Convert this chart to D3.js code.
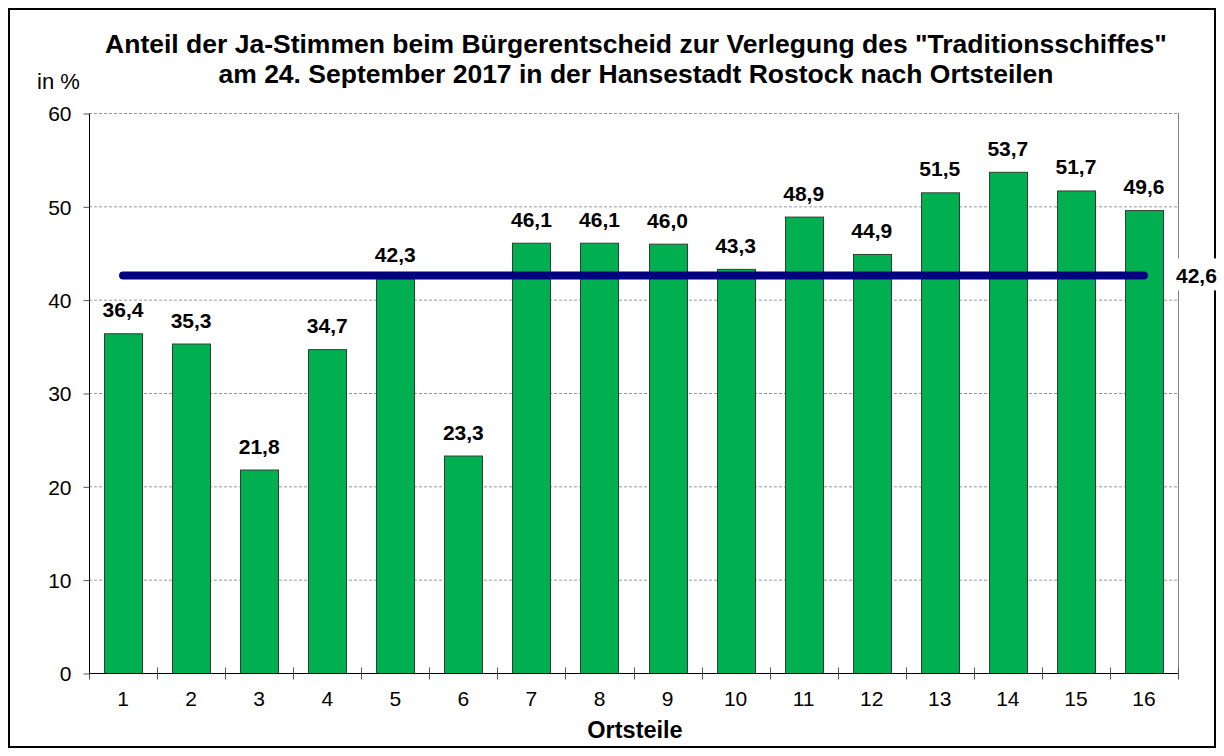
<!DOCTYPE html>
<html>
<head>
<meta charset="utf-8">
<script src="https://cdn.jsdelivr.net/npm/d3@7"></script>
<style>
  html, body { margin: 0; padding: 0; background: #fff; }
  svg text { font-family: Arial, "Liberation Sans", sans-serif; fill: #000; }
</style>
</head>
<body>
<svg id="chart" width="1224" height="756"></svg>
<script>
// Ortsteile (districts) and share of yes votes in %
const districts = ["1","2","3","4","5","6","7","8","9","10","11","12","13","14","15","16"];
const yesShare = [36.4, 35.3, 21.8, 34.7, 42.3, 23.3, 46.1, 46.1, 46.0, 43.3, 48.9, 44.9, 51.5, 53.7, 51.7, 49.6];
const cityAverage = 42.6;
const yTicks = [0, 10, 20, 30, 40, 50, 60];
const titleLines = [
  "Anteil der Ja-Stimmen beim Bürgerentscheid zur Verlegung des \"Traditionsschiffes\"",
  "am 24. September 2017 in der Hansestadt Rostock nach Ortsteilen"
];

const fmt = v => v.toFixed(1).replace(".", ",");

const svg = d3.select("#chart");
const W = 1224, H = 756;
const plot = { left: 89, right: 1178, top: 113, bottom: 673 };

// outer frame
svg.append("rect")
  .attr("x", 9).attr("y", 9).attr("width", W - 18).attr("height", H - 18)
  .attr("fill", "#fff").attr("stroke", "#000").attr("stroke-width", 2);

const xb = d3.scaleBand().domain(districts).range([plot.left, plot.right]);
const y = d3.scaleLinear().domain([0, 60]).range([plot.bottom, plot.top]);
const cx = d => xb(d) + xb.bandwidth() / 2;

// horizontal grid lines
svg.append("g").selectAll("line").data(yTicks.filter(t => t > 0)).join("line")
  .attr("x1", plot.left).attr("x2", plot.right)
  .attr("y1", d => y(d) + 0.5).attr("y2", d => y(d) + 0.5)
  .attr("stroke", "#999").attr("stroke-width", 1).attr("stroke-dasharray", "3,2");

// right border of the plot area
svg.append("line")
  .attr("x1", plot.right + 0.5).attr("x2", plot.right + 0.5)
  .attr("y1", plot.top).attr("y2", plot.bottom)
  .attr("stroke", "#808080").attr("stroke-width", 1);

// bars
svg.append("g").selectAll("rect").data(yesShare).join("rect")
  .attr("x", (d, i) => Math.round(cx(districts[i]) - 19) + 0.5)
  .attr("width", 38)
  .attr("y", d => y(d) + 0.5)
  .attr("height", d => y(0) - y(d))
  .attr("fill", "#00b050")
  .attr("stroke", "#333d33").attr("stroke-width", 1);

// value labels
svg.append("g").selectAll("text").data(yesShare).join("text")
  .attr("x", (d, i) => cx(districts[i]))
  .attr("y", d => y(d) - 16)
  .attr("text-anchor", "middle")
  .attr("font-size", 21).attr("font-weight", "bold")
  .text(d => fmt(d));

// y axis
const yAxis = d3.axisLeft(y).tickValues(yTicks).tickSize(6).tickPadding(12).tickFormat(d3.format("d"));
const gy = svg.append("g").attr("transform", `translate(${plot.left + 0.5},0.5)`).call(yAxis);
gy.select(".domain").attr("stroke", "#000").attr("d", `M0,${plot.top}V${plot.bottom}`);
gy.selectAll(".tick line").attr("stroke", "#555");
gy.selectAll(".tick text").attr("font-size", 21).attr("font-family", "Arial, 'Liberation Sans', sans-serif").attr("fill", "#000").attr("dy", "0.35em");

// x axis
const gx = svg.append("g").attr("transform", `translate(0,${plot.bottom + 0.5})`);
gx.append("line").attr("x1", plot.left).attr("x2", plot.right + 1).attr("stroke", "#000").attr("stroke-width", 1.2);
const boundaries = districts.map(d => xb(d)).concat([plot.right]);
gx.selectAll("line.tk").data(boundaries).join("line").attr("class", "tk")
  .attr("x1", d => Math.round(d) + 0.5).attr("x2", d => Math.round(d) + 0.5)
  .attr("y1", (d, i) => i === 0 ? 0 : -6).attr("y2", 6)
  .attr("stroke", "#555");
gx.selectAll("text").data(districts).join("text")
  .attr("x", d => cx(d))
  .attr("y", 32)
  .attr("text-anchor", "middle").attr("font-size", 21)
  .text(d => d);

// city average line
svg.append("line")
  .attr("x1", cx(districts[0]))
  .attr("x2", cx(districts[districts.length - 1]))
  .attr("y1", y(cityAverage)).attr("y2", y(cityAverage))
  .attr("stroke", "#000080").attr("stroke-width", 8).attr("stroke-linecap", "round");

// average label with white background
const avgLabel = svg.append("g");
avgLabel.append("rect")
  .attr("x", 1174).attr("y", y(cityAverage) - 17).attr("width", 44).attr("height", 32).attr("fill", "#fff");
avgLabel.append("text")
  .attr("x", 1176).attr("y", y(cityAverage) + 8)
  .attr("font-size", 21).attr("font-weight", "bold")
  .text(fmt(cityAverage));

// title
svg.append("g").selectAll("text").data(titleLines).join("text")
  .attr("x", 636).attr("y", (d, i) => 53 + i * 30)
  .attr("text-anchor", "middle").attr("font-size", 26.5).attr("font-weight", "bold")
  .text(d => d);

// unit label
svg.append("text").attr("x", 37).attr("y", 89).attr("font-size", 22).text("in %");

// x axis title
svg.append("text").attr("x", 635).attr("y", 738).attr("text-anchor", "middle")
  .attr("font-size", 23.5).attr("font-weight", "bold").text("Ortsteile");
</script>
</body>
</html>
